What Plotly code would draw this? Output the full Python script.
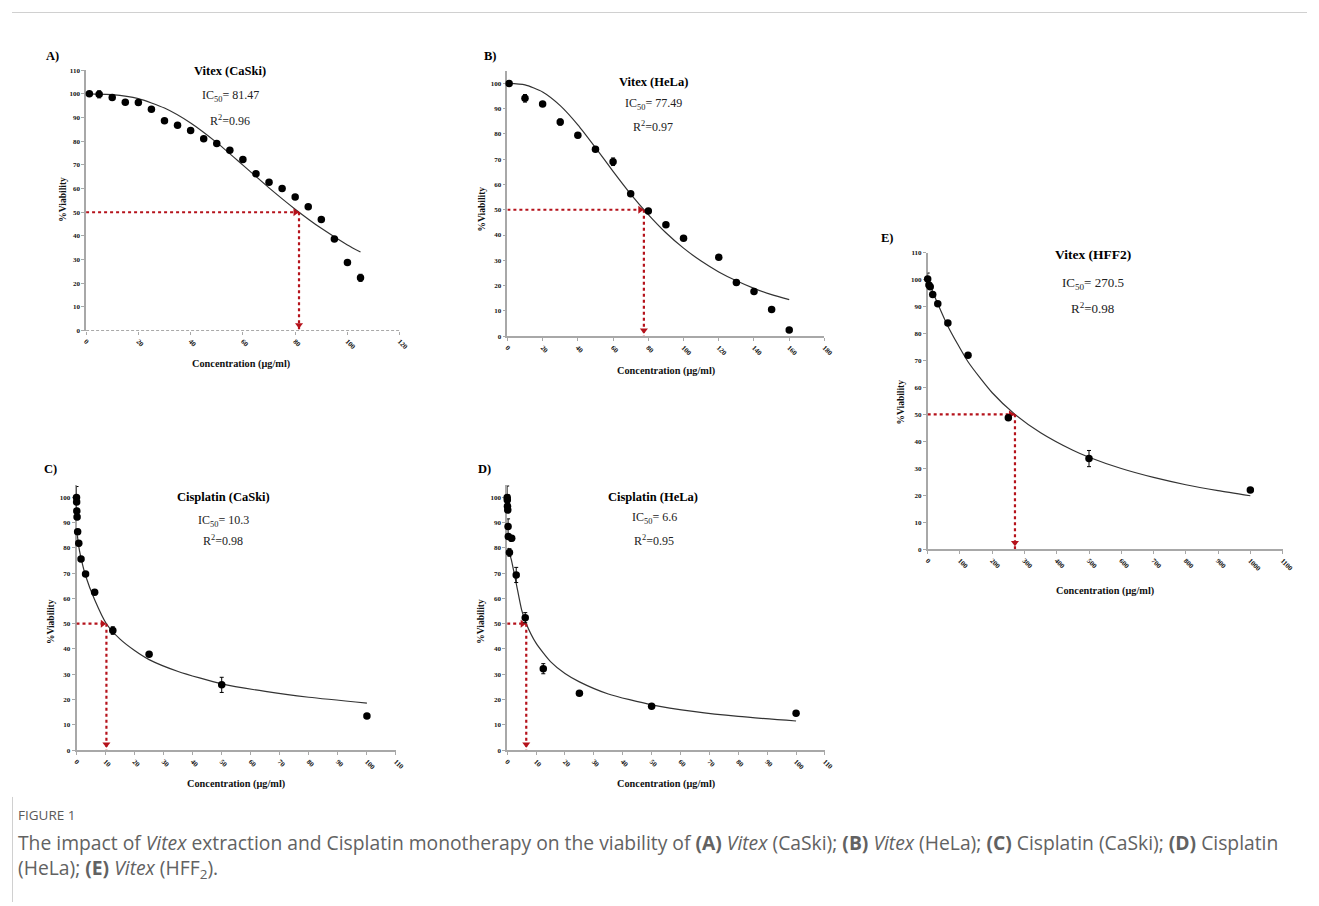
import plotly.graph_objects as go

# page body has an 8px default margin: the figure is drawn 8px in from the window edge
W, H = 1319, 906
OFF = 8
FW, FH = W - OFF, H - OFF

# ---------------- data ----------------
# A) Vitex (CaSki)
a_conc = [1.25, 5, 10, 15, 20, 25, 30, 35, 40, 45, 50, 55, 60, 65, 70, 75, 80, 85, 90, 95, 100, 105]
a_via = [100, 99.8, 98.5, 96.5, 96.3, 93.5, 88.6, 86.7, 84.5, 81.0, 79.0, 76.2, 72.3, 66.3, 62.7, 60.0,
         56.4, 52.3, 46.9, 38.7, 28.8, 22.3]
a_err = [0.5, 1.5, 0.5, 0.5, 1.0, 0.5, 0.5, 0.5, 0.5, 0.5, 0.5, 0.5, 0.5, 0.5, 0.5, 0.5, 0.5, 0.5, 0.5,
         0.5, 0.8, 1.5]
a_fit_x = [0, 10, 20, 30, 40, 50, 60, 70, 80, 90, 100, 105]
a_fit_y = [100, 99.7, 98.0, 94.0, 87.7, 79.4, 69.9, 60.3, 51.3, 43.2, 36.2, 33.2]

# B) Vitex (HeLa)
b_conc = [1, 10, 20, 30, 40, 50, 60, 70, 80, 90, 100, 120, 130, 140, 150, 160]
b_via = [100, 94.1, 91.8, 84.7, 79.5, 73.9, 69.0, 56.3, 49.5, 44.1, 38.7, 31.2, 21.2, 17.6, 10.5, 2.4]
b_err = [1.0, 1.5, 0.8, 1.2, 1.0, 0.5, 1.5, 0.5, 1.0, 0.5, 0.5, 0.5, 1.0, 0.5, 0.5, 0.5]
b_fit_x = [0, 10, 20, 30, 40, 50, 60, 70, 80, 90, 100, 110, 120, 130, 140, 150, 160]
b_fit_y = [100, 99.4, 96.6, 91.2, 83.6, 74.6, 65.2, 56.2, 48.1, 40.9, 34.8, 29.7, 25.4, 21.9, 18.9, 16.4, 14.4]

# C) Cisplatin (CaSki)
c_conc = [0, 0.05, 0.1, 0.2, 0.39, 0.78, 1.56, 3.125, 6.25, 12.5, 25, 50, 100]
c_via = [100, 98.2, 94.6, 92.2, 86.4, 81.8, 75.6, 69.7, 62.5, 47.3, 37.9, 25.8, 13.5]
c_err = [4.3, 1.0, 1.0, 1.0, 1.0, 1.0, 1.0, 0.8, 1.0, 1.5, 0.5, 3.0, 0.5]
c_fit_x = [0.3, 0.78, 1.56, 3.125, 6.25, 10.3, 15, 20, 25, 35, 50, 65, 80, 100]
c_fit_y = [85, 80.5, 76, 69, 59.5, 50, 43.9, 39.4, 35.8, 31.1, 26.2, 23.2, 20.9, 18.6]

# D) Cisplatin (HeLa)
d_conc = [0, 0.05, 0.1, 0.2, 0.3, 0.39, 0.78, 1.56, 3.125, 6.25, 12.5, 25, 50, 100]
d_via = [100, 99.0, 96.5, 95.0, 88.5, 84.5, 78.2, 83.8, 69.3, 52.4, 32.2, 22.5, 17.3, 14.6]
d_err = [4.5, 1.0, 1.5, 1.0, 3.0, 1.0, 1.5, 1.0, 3.0, 2.0, 2.0, 0.5, 0.5, 0.5]
d_fit_x = [0.3, 0.78, 1.56, 3.125, 5, 6.6, 10, 15, 20, 25, 35, 50, 65, 80, 100]
d_fit_y = [80, 78, 74.7, 66, 55.5, 50, 42.3, 35, 30.3, 27, 22.2, 17.9, 15.2, 13.3, 11.5]

# E) Vitex (HFF2)
e_conc = [0, 3.9, 7.8, 15.6, 31.25, 62.5, 125, 250, 500, 1000]
e_via = [100.2, 98.0, 97.3, 94.4, 91.0, 83.9, 71.9, 48.7, 33.6, 21.9]
e_err = [2.2, 0.5, 0.5, 0.5, 0.5, 0.5, 0.8, 0.5, 3.0, 0.5]
e_fit_x = [0, 15.6, 31.25, 62.5, 125, 200, 270.5, 350, 450, 500, 600, 700, 800, 900, 1000]
e_fit_y = [100, 95.5, 91.0, 82.7, 69.5, 58.0, 50.0, 43.2, 36.7, 34.1, 29.9, 26.6, 23.9, 21.7, 19.8]

panel_letters = ["A)", "B)", "C)", "D)", "E)"]
panel_titles = ["Vitex (CaSki)", "Vitex (HeLa)", "Cisplatin (CaSki)", "Cisplatin (HeLa)", "Vitex (HFF2)"]
ic50_values = [81.47, 77.49, 10.3, 6.6, 270.5]
ic50_labels = ["81.47", "77.49", "10.3", "6.6", "270.5"]
r2_labels = ["0.96", "0.97", "0.98", "0.95", "0.98"]
x_ranges = [[0, 120], [0, 180], [0, 110], [0, 110], [0, 1100]]
x_dticks = [20, 20, 10, 10, 100]
y_ranges = [[0, 110], [0, 105], [0, 105], [0, 105], [0, 110]]
y_tick_vals = [list(range(0, 111, 10)), list(range(0, 101, 10)), list(range(0, 101, 10)),
               list(range(0, 101, 10)), list(range(0, 111, 10))]
x_title = "Concentration (μg/ml)"
y_title = "%Viability"
half_level = 50
caption_head = "FIGURE 1"
caption_text = ("The impact of <i>Vitex</i> extraction and Cisplatin monotherapy on the viability of <b>(A)</b> "
                "<i>Vitex</i> (CaSki); <b>(B)</b> <i>Vitex</i> (HeLa); <b>(C)</b> Cisplatin (CaSki); "
                "<b>(D)</b> Cisplatin<br>(HeLa); <b>(E)</b> <i>Vitex</i> (HFF<sub>2</sub>).")

series = [
    (a_conc, a_via, a_err, a_fit_x, a_fit_y),
    (b_conc, b_via, b_err, b_fit_x, b_fit_y),
    (c_conc, c_via, c_err, c_fit_x, c_fit_y),
    (d_conc, d_via, d_err, d_fit_x, d_fit_y),
    (e_conc, e_via, e_err, e_fit_x, e_fit_y),
]

# ---------------- layout (window pixel geometry) ----------------
geom = [
    dict(x0=83, x1=400.5, yt=66.7, yb=329.5, letter=(40, 52), title=(229, 68), ic=(229, 93), r2=(229, 117),
         xt=(240, 363), yt_=(60, 197), tsize=12.5),
    dict(x0=509.5, x1=830.5, yt=67.3, yb=335, letter=(484, 52), title=(657, 79), ic=(657, 101), r2=(657, 124),
         xt=(670, 370), yt_=(484, 207), tsize=12.5),
    dict(x0=73.3, x1=396.7, yt=485, yb=752.7, letter=(38, 469), title=(222, 497), ic=(222, 522), r2=(222, 541),
         xt=(235, 787), yt_=(47, 623), tsize=12.5),
    dict(x0=509.3, x1=831, yt=485, yb=752.7, letter=(478, 469), title=(657, 497), ic=(658, 519), r2=(658, 541),
         xt=(670, 787), yt_=(482, 623), tsize=12.5),
    dict(x0=935, x1=1294.3, yt=250.7, yb=550, letter=(886, 236), title=(1102, 253), ic=(1102, 282), r2=(1102, 307),
         xt=(1115, 592), yt_=(908, 402), tsize=13.5),
]

SERIF = "Liberation Serif, Times New Roman, serif"
AXIS_GRAY = "#a8a8a8"
RED = "#b5121b"


def px(x):
    return (x - OFF) / FW


def py(y):
    return 1 - (y - OFF) / FH


fig = go.Figure()
layout = dict(
    width=FW, height=FH, margin=dict(l=0, r=0, t=0, b=0), autosize=False,
    paper_bgcolor="white", plot_bgcolor="white", showlegend=False,
)
annotations = []
shapes = []

for i, (g, (xs, ys, es, fx, fy)) in enumerate(zip(geom, series)):
    k = "" if i == 0 else str(i + 1)
    xa, ya = "x" + k, "y" + k
    layout["xaxis" + k] = dict(
        domain=[px(g["x0"]), px(g["x1"])], range=x_ranges[i], anchor=ya,
        dtick=x_dticks[i], tick0=0, showgrid=False, zeroline=False,
        showline=(i != 0), linecolor=AXIS_GRAY, linewidth=1.5,
        ticks="outside", ticklen=3, tickcolor=AXIS_GRAY, tickwidth=1,
        tickangle=45, tickfont=dict(family=SERIF, size=7, color="#111", weight="bold"),
        layer="below traces", fixedrange=True,
    )
    layout["yaxis" + k] = dict(
        domain=[py(g["yb"]), py(g["yt"])], range=y_ranges[i], anchor=xa,
        tickvals=y_tick_vals[i], showgrid=False, zeroline=False,
        showline=True, linecolor=AXIS_GRAY, linewidth=1.5,
        ticks="outside", ticklen=3, tickcolor=AXIS_GRAY, tickwidth=1,
        tickfont=dict(family=SERIF, size=7, color="#111", weight="bold"),
        layer="below traces", fixedrange=True,
    )
    if i == 0:
        shapes.append(dict(type="line", xref="x domain", yref=ya, x0=0, x1=1, y0=0, y1=0,
                           line=dict(color="#8c8c8c", width=1.5, dash="3px,2px"), layer="below"))

    # fitted curve
    fig.add_trace(go.Scatter(x=fx, y=fy, mode="lines", xaxis=xa, yaxis=ya,
                             line=dict(color="#333", width=1.2, shape="spline", smoothing=0.6),
                             cliponaxis=False, hoverinfo="skip"))
    # IC50 guide lines
    ic = ic50_values[i]
    fig.add_trace(go.Scatter(x=[0, ic], y=[half_level, half_level], mode="lines", xaxis=xa, yaxis=ya,
                             line=dict(color=RED, width=2.2, dash="dot"), cliponaxis=False, hoverinfo="skip"))
    fig.add_trace(go.Scatter(x=[ic, ic], y=[half_level, 0], mode="lines", xaxis=xa, yaxis=ya,
                             line=dict(color=RED, width=2.2, dash="dot"), cliponaxis=False, hoverinfo="skip"))
    xspan = x_ranges[i][1] - x_ranges[i][0]
    yspan = y_ranges[i][1] - y_ranges[i][0]
    fig.add_trace(go.Scatter(x=[ic - 0.012 * xspan], y=[half_level], mode="markers", xaxis=xa, yaxis=ya,
                             marker=dict(symbol="triangle-right", size=7, color=RED),
                             cliponaxis=False, hoverinfo="skip"))
    fig.add_trace(go.Scatter(x=[ic], y=[0.022 * yspan], mode="markers", xaxis=xa, yaxis=ya,
                             marker=dict(symbol="triangle-down", size=7, color=RED),
                             cliponaxis=False, hoverinfo="skip"))
    # data points
    fig.add_trace(go.Scatter(x=xs, y=ys, mode="markers", xaxis=xa, yaxis=ya,
                             marker=dict(symbol="circle", size=7.5, color="black"),
                             error_y=dict(type="data", array=es, color="black", thickness=1, width=2),
                             cliponaxis=False))

    # texts
    annotations.append(dict(x=px(g["letter"][0]), y=py(g["letter"][1]), xref="paper", yref="paper",
                            text="<b>" + panel_letters[i] + "</b>", showarrow=False, xanchor="left",
                            yanchor="middle", font=dict(family=SERIF, size=12.5, color="black")))
    annotations.append(dict(x=px(g["title"][0]), y=py(g["title"][1]), xref="paper", yref="paper",
                            text="<b>" + panel_titles[i] + "</b>", showarrow=False, xanchor="center",
                            yanchor="middle", font=dict(family=SERIF, size=g["tsize"], color="black")))
    annotations.append(dict(x=px(g["ic"][0]), y=py(g["ic"][1]), xref="paper", yref="paper",
                            text="IC<sub>50</sub>= " + ic50_labels[i], showarrow=False, xanchor="center",
                            yanchor="middle", font=dict(family=SERIF, size=g["tsize"] - 0.5, color="#222")))
    annotations.append(dict(x=px(g["r2"][0]), y=py(g["r2"][1]), xref="paper", yref="paper",
                            text="R<sup>2</sup>=" + r2_labels[i], showarrow=False, xanchor="center",
                            yanchor="middle", font=dict(family=SERIF, size=g["tsize"] - 0.5, color="#222")))
    annotations.append(dict(x=px(g["xt"][0]), y=py(g["xt"][1]), xref="paper", yref="paper",
                            text="<b>" + x_title + "</b>", showarrow=False, xanchor="center",
                            yanchor="middle", font=dict(family=SERIF, size=10.3, color="#111")))
    annotations.append(dict(x=px(g["yt_"][0]), y=py(g["yt_"][1]), xref="paper", yref="paper",
                            text="<b>" + y_title + "</b>", showarrow=False, textangle=-90, xanchor="center",
                            yanchor="middle", font=dict(family=SERIF, size=9.5, color="#111")))

# caption
CAP = "Open Sans, Noto Sans, sans-serif"
annotations.append(dict(x=px(12), y=py(818), xref="paper", yref="paper", text=caption_head, showarrow=False,
                        xanchor="left", yanchor="middle", font=dict(family=CAP, size=13.5, color="#5a5a5a")))
annotations.append(dict(x=px(12), y=py(830), xref="paper", yref="paper", showarrow=False, xanchor="left",
                        yanchor="top", align="left", text=caption_text,
                        font=dict(family=CAP, size=19.3, color="#626262")))

shapes.append(dict(type="line", xref="paper", yref="paper", x0=0, x1=1, y0=py(8.5), y1=py(8.5),
                   line=dict(color="#d0d0d0", width=1)))
shapes.append(dict(type="line", xref="paper", yref="paper", x0=px(8.5), x1=px(8.5), y0=py(800), y1=0,
                   line=dict(color="#d0d0d0", width=1)))

layout["annotations"] = annotations
layout["shapes"] = shapes
fig.update_layout(**layout)
fig.write_html("out.html")
